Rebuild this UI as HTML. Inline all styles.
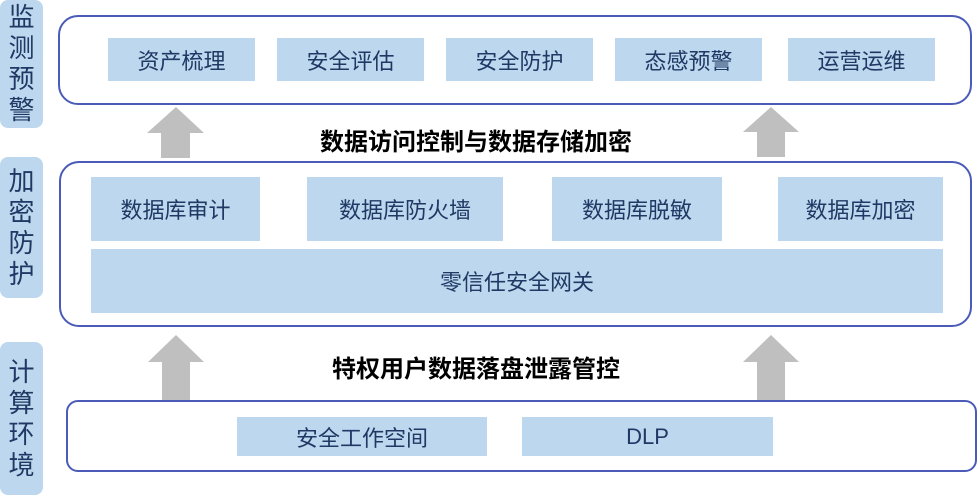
<!DOCTYPE html>
<html><head><meta charset="utf-8"><style>
body{margin:0;width:980px;height:498px;background:#fff;position:relative;overflow:hidden;font-family:"Liberation Sans","Noto Sans CJK SC",sans-serif}
.a{position:absolute}
.side{background:#bdd7ee;border-radius:8px;color:#1f3864;font-size:26px;line-height:31px;width:43px;left:0;display:flex;flex-direction:column;align-items:center;justify-content:center}
.panel{border:2px solid #4a5bb8;border-radius:20px;box-sizing:border-box;background:#fff}
.b{background:#bdd7ee;color:#1f3864;font-size:22px;display:flex;align-items:center;justify-content:center}
.t{font-weight:bold;font-size:24px;color:#000;text-align:center;width:500px;left:226px}
</style></head><body>
<div class="a side" style="top:0;height:128px">监<br>测<br>预<br>警</div>
<div class="a side" style="top:157px;height:141px">加<br>密<br>防<br>护</div>
<div class="a side" style="top:342px;height:153px">计<br>算<br>环<br>境</div>

<div class="a panel" style="left:58px;top:15px;width:914px;height:90px"></div>
<div class="a panel" style="left:59px;top:161px;width:913px;height:166px"></div>
<div class="a panel" style="left:66px;top:400px;width:911px;height:72px;border-radius:12px"></div>

<div class="a b" style="left:108px;top:38px;width:147px;height:43px">资产梳理</div>
<div class="a b" style="left:277px;top:38px;width:147px;height:43px">安全评估</div>
<div class="a b" style="left:446px;top:38px;width:147px;height:43px">安全防护</div>
<div class="a b" style="left:615px;top:38px;width:147px;height:43px">态感预警</div>
<div class="a b" style="left:788px;top:38px;width:147px;height:43px">运营运维</div>

<div class="a b" style="left:91px;top:177px;width:169px;height:64px">数据库审计</div>
<div class="a b" style="left:307px;top:177px;width:196px;height:64px">数据库防火墙</div>
<div class="a b" style="left:552px;top:177px;width:170px;height:64px">数据库脱敏</div>
<div class="a b" style="left:778px;top:177px;width:165px;height:64px">数据库加密</div>
<div class="a b" style="left:91px;top:249px;width:852px;height:64px">零信任安全网关</div>

<div class="a b" style="left:237px;top:417px;width:250px;height:39px">安全工作空间</div>
<div class="a b" style="left:522px;top:417px;width:251px;height:39px">DLP</div>

<div class="a t" style="top:122px">数据访问控制与数据存储加密</div>
<div class="a t" style="top:349px">特权用户数据落盘泄露管控</div>

<svg class="a" style="left:0;top:0" width="980" height="498">
<g fill="#bfbfbf">
<polygon points="176,107 204,133 190,133 190,158 161,158 161,133 147,133"/>
<polygon points="771,107 799,132 785,132 785,157 757,157 757,132 743,132"/>
<polygon points="176,335 204,362 190,362 190,400 162,400 162,362 148,362"/>
<polygon points="771,335 799,362 785,362 785,400 757,400 757,362 743,362"/>
</g></svg>
</body></html>
